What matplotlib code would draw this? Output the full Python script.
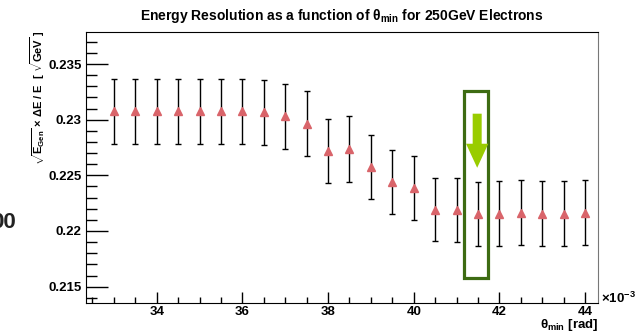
import matplotlib
matplotlib.use('Agg')
import matplotlib.pyplot as plt
from matplotlib.patches import Rectangle, Polygon
import numpy as np

plt.rcParams['font.family'] = ['Liberation Sans', 'DejaVu Sans']
plt.rcParams['font.weight'] = 'bold'
plt.rcParams['mathtext.fontset'] = 'custom'
plt.rcParams['mathtext.rm'] = 'Liberation Sans:bold'
plt.rcParams['mathtext.it'] = 'Liberation Sans:bold'
plt.rcParams['mathtext.bf'] = 'Liberation Sans:bold'

# theta_min en 1e-3 rad
theta = [33, 33.5, 34, 34.5, 35, 35.5, 36, 36.5, 37, 37.5, 38, 38.5,
         39, 39.5, 40, 40.5, 41, 41.5, 42, 42.5, 43, 43.5, 44]
resol = [0.23074, 0.23074, 0.23074, 0.23074, 0.23074, 0.23074, 0.23074,
         0.23065, 0.23029, 0.22964, 0.22717, 0.22735, 0.22575, 0.22440,
         0.22386, 0.22191, 0.22188, 0.22155, 0.22157, 0.22166, 0.22153,
         0.22155, 0.22166]
err = [0.00295, 0.00295, 0.00295, 0.00295, 0.00295, 0.00295, 0.00295,
       0.00295, 0.00292, 0.0029, 0.00286, 0.00295, 0.0029, 0.00288,
       0.00288, 0.00285, 0.00288, 0.00286, 0.00288, 0.00288, 0.00292,
       0.00292, 0.00288]

# cadre + fleche d'annotation (coordonnées données)
box_x, box_y, box_w, box_h = 41.17, 0.21576, 0.57, 0.01678
arrow_x, arrow_top, arrow_base, arrow_tip = 41.48, 0.23054, 0.22784, 0.22568
shaft_hw, head_hw = 0.105, 0.26

fig = plt.figure(figsize=(6.35, 3.33), dpi=100)
ax = fig.add_axes([86/635, 1-303/333, 512/635, 271/333])

ax.errorbar(theta, resol, yerr=err, fmt='none', ecolor='black',
            elinewidth=1.0, capsize=2.5, capthick=1.0)
ax.plot(theta, resol, linestyle='none', marker='^', markersize=6,
        color='#d9646a', markeredgecolor='#d9646a')

ax.set_xlim(32.35, 44.3)
ax.set_ylim(0.21353, 0.23788)
ax.set_xticks([34, 36, 38, 40, 42, 44])
ax.set_xticks(np.arange(32.5, 44.3, 0.5), minor=True)
ax.set_yticks([0.215, 0.22, 0.225, 0.23, 0.235])
ax.set_yticklabels(['0.215', '0.22', '0.225', '0.23', '0.235'])
ax.set_yticks(np.arange(0.214, 0.2375, 0.001), minor=True)
ax.tick_params(axis='both', which='both', direction='in', labelsize=9.5,
               top=False, right=False, width=1)
ax.tick_params(axis='y', which='major', length=16, pad=3)
ax.tick_params(axis='y', which='minor', length=8)
ax.tick_params(axis='x', which='major', length=8, pad=2)
ax.tick_params(axis='x', which='minor', length=4)
for lab in ax.get_xticklabels() + ax.get_yticklabels():
    lab.set_fontweight('bold')
ax.spines['right'].set_color('#777777')

ax.add_patch(Rectangle((box_x, box_y), box_w, box_h, fill=False,
                       edgecolor='#3d6b12', linewidth=2.3, zorder=5))
ax.add_patch(Polygon([(arrow_x - shaft_hw, arrow_top), (arrow_x + shaft_hw, arrow_top),
                      (arrow_x + shaft_hw, arrow_base), (arrow_x + head_hw, arrow_base),
                      (arrow_x, arrow_tip), (arrow_x - head_hw, arrow_base),
                      (arrow_x - shaft_hw, arrow_base)],
                     closed=True, facecolor='#99cc00', edgecolor='none', zorder=6))

fig.text(342/635, 1-16/333, r'Energy Resolution as a function of $\theta_{min}$ for 250GeV Electrons',
         ha='center', va='center', fontsize=10, fontweight='bold')
fig.text(38/635, 1-30/333, r'$\sqrt{E_{Gen}}$ $\times$ $\Delta$E / E  [ $\sqrt{GeV}$ ]',
         rotation=90, ha='center', va='top', fontsize=8, fontweight='bold')
fig.text(598/635, 1-325/333, r'$\theta_{min}$ [rad]', ha='right', va='center',
         fontsize=9.5, fontweight='bold')
fig.text(601/635, 1-298/333, r'$\times$10$^{-3}$', ha='left', va='center',
         fontsize=9.5, fontweight='bold')
fig.text(16/635, 1-223/333, '00', ha='right', va='center', fontsize=16,
         fontweight='bold', color='#222222')

fig.savefig('out.png', dpi=100)
